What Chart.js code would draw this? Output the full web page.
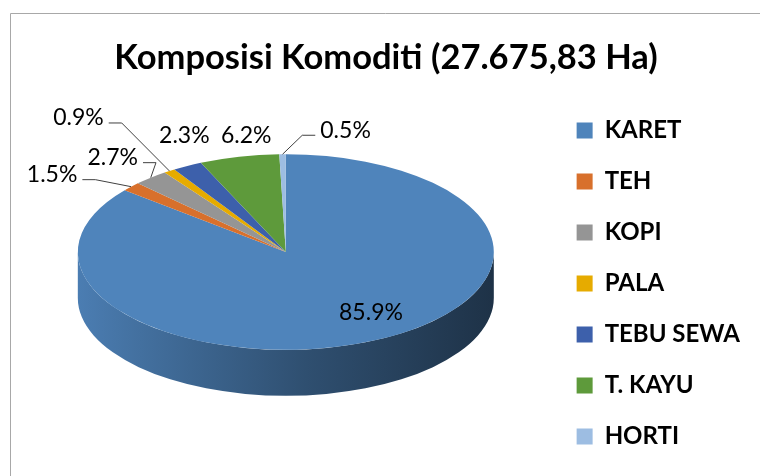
<!DOCTYPE html>
<html>
<head>
<meta charset="utf-8">
<script src="https://cdn.jsdelivr.net/npm/chart.js@4.4.1/dist/chart.umd.min.js"></script>
<style>
html, body { margin: 0; padding: 0; background: #fff; overflow: hidden; }
#wrap { position: relative; width: 760px; height: 476px; overflow: hidden; }
canvas { position: absolute; left: 0; top: 0; }
</style>
</head>
<body>
<div id="wrap">
    <canvas id="pieChart" width="760" height="476"></canvas>
</div>
<script>
// data
const categories = ["KARET", "TEH", "KOPI", "PALA", "TEBU SEWA", "T. KAYU", "HORTI"];
const shares = [85.9, 1.5, 2.7, 0.9, 2.3, 6.2, 0.5];
const sliceColors = ["#4f84bb", "#d8702c", "#959595", "#e6ab00", "#3d60ab", "#5e9a3b", "#9dbde2"];

// label offsets from the slice edge [dx, dy, leader line?]
const labelOffsets = [[-4, -28, false], [-79, -12, true], [-38, -20, true], [-91, -53, true], [-3, -30, false], [7, -21, false], [63, -24, true]];

const TILT = 0.47;       // vertical squash of the pie
const CENTER_Y = 252;    // where the pie centre lands
const DEPTH = 46;        // thickness of the disc

function shade(hex, f) {
    let n = parseInt(hex.slice(1), 16);
    let r = Math.round(((n >> 16) & 255) * f);
    let g = Math.round(((n >> 8) & 255) * f);
    let b = Math.round((n & 255) * f);
    return "rgb(" + r + "," + g + "," + b + ")";
}

// chart frame, only its top and left edges are in view
const framePlugin = {
    id: "frame",
    beforeDraw(chart) {
        const ctx = chart.ctx;
        ctx.save();
        ctx.strokeStyle = "#a8a8a8";
        ctx.lineWidth = 1;
        ctx.beginPath();
        ctx.moveTo(10.5, chart.height);
        ctx.lineTo(10.5, 13.5);
        ctx.lineTo(chart.width, 13.5);
        ctx.stroke();
        ctx.restore();
    },
};

const tiltPlugin = {
    id: "tilt",
    beforeDatasetsDraw(chart) {
        const ctx = chart.ctx;
        const arcs = chart.getDatasetMeta(0).data;
        const cx = arcs[0].x, cy = arcs[0].y, R = arcs[0].outerRadius;
        const ry = R * TILT;

        // side wall of the front half
        arcs.forEach((arc, i) => {
            for (let k = -1; k <= 1; k++) {
                let lo = Math.max(arc.startAngle, 2 * Math.PI * k);
                let hi = Math.min(arc.endAngle, 2 * Math.PI * k + Math.PI);
                if (hi <= lo) continue;
                let col = sliceColors[i];
                let grad = ctx.createLinearGradient(cx - R, 0, cx + R, 0);
                grad.addColorStop(0, shade(col, 0.95));
                grad.addColorStop(0.15, shade(col, 0.85));
                grad.addColorStop(0.55, shade(col, 0.6));
                grad.addColorStop(1, shade(col, 0.38));
                ctx.beginPath();
                ctx.ellipse(cx, CENTER_Y, R, ry, 0, lo, hi);
                ctx.ellipse(cx, CENTER_Y + DEPTH, R, ry, 0, hi, lo, true);
                ctx.closePath();
                ctx.fillStyle = grad;
                ctx.fill();
            }
        });

        ctx.save();
        ctx.translate(0, CENTER_Y);
        ctx.scale(1, TILT);
        ctx.translate(0, -cy);
    },
    afterDatasetsDraw(chart) {
        const ctx = chart.ctx;
        ctx.restore();
        const arcs = chart.getDatasetMeta(0).data;
        const cx = arcs[0].x, R = arcs[0].outerRadius;
        const ry = R * TILT;

        ctx.save();
        ctx.font = "23px Lato";
        ctx.fillStyle = "#000";
        ctx.strokeStyle = "#404040";
        ctx.lineWidth = 1;
        ctx.textAlign = "center";
        ctx.textBaseline = "middle";
        arcs.forEach((arc, i) => {
            let mid = (arc.startAngle + arc.endAngle) / 2;
            let ax = cx + R * Math.cos(mid);
            let ay = CENTER_Y + ry * Math.sin(mid);
            let off = labelOffsets[i];
            let tx = ax + off[0], ty = ay + off[1];
            let text = shares[i].toFixed(1) + "%";
            if (off[2]) {
                let w = ctx.measureText(text).width;
                let side = tx < ax ? 1 : -1;
                let ex = tx + side * (w / 2 + 5);
                let ly = ty + 5;
                ctx.beginPath();
                ctx.moveTo(ex, ly);
                ctx.lineTo(ex + side * 13, ly);
                ctx.lineTo(ax, ay);
                ctx.stroke();
            }
            ctx.fillText(text, tx, ty);
        });
        ctx.restore();
    },
};

new Chart(document.getElementById("pieChart"), {
    type: "pie",
    data: {
        labels: categories,
        datasets: [
            {
                data: shares,
                backgroundColor: sliceColors,
                borderWidth: 0,
                radius: 208,
                clip: false,
            },
        ],
    },
    options: {
        responsive: false,
        animation: false,
        events: [],
        layout: {
            padding: { left: 22, right: 10, top: 0, bottom: 0 },
        },
        plugins: {
            title: {
                display: true,
                text: "Komposisi Komoditi (27.675,83 Ha)",
                color: "#000",
                font: { family: "Lato", size: 34.5, weight: "bold" },
                padding: { top: 37, bottom: 13 },
            },
            legend: {
                position: "right",
                align: "start",
                fullSize: false,
                labels: {
                    color: "#000",
                    font: { family: "Lato", size: 24, weight: "bold" },
                    boxWidth: 16,
                    boxHeight: 16,
                    padding: 27,
                },
            },
            tooltip: { enabled: false },
        },
    },
    plugins: [framePlugin, tiltPlugin],
});
</script>
</body>
</html>
